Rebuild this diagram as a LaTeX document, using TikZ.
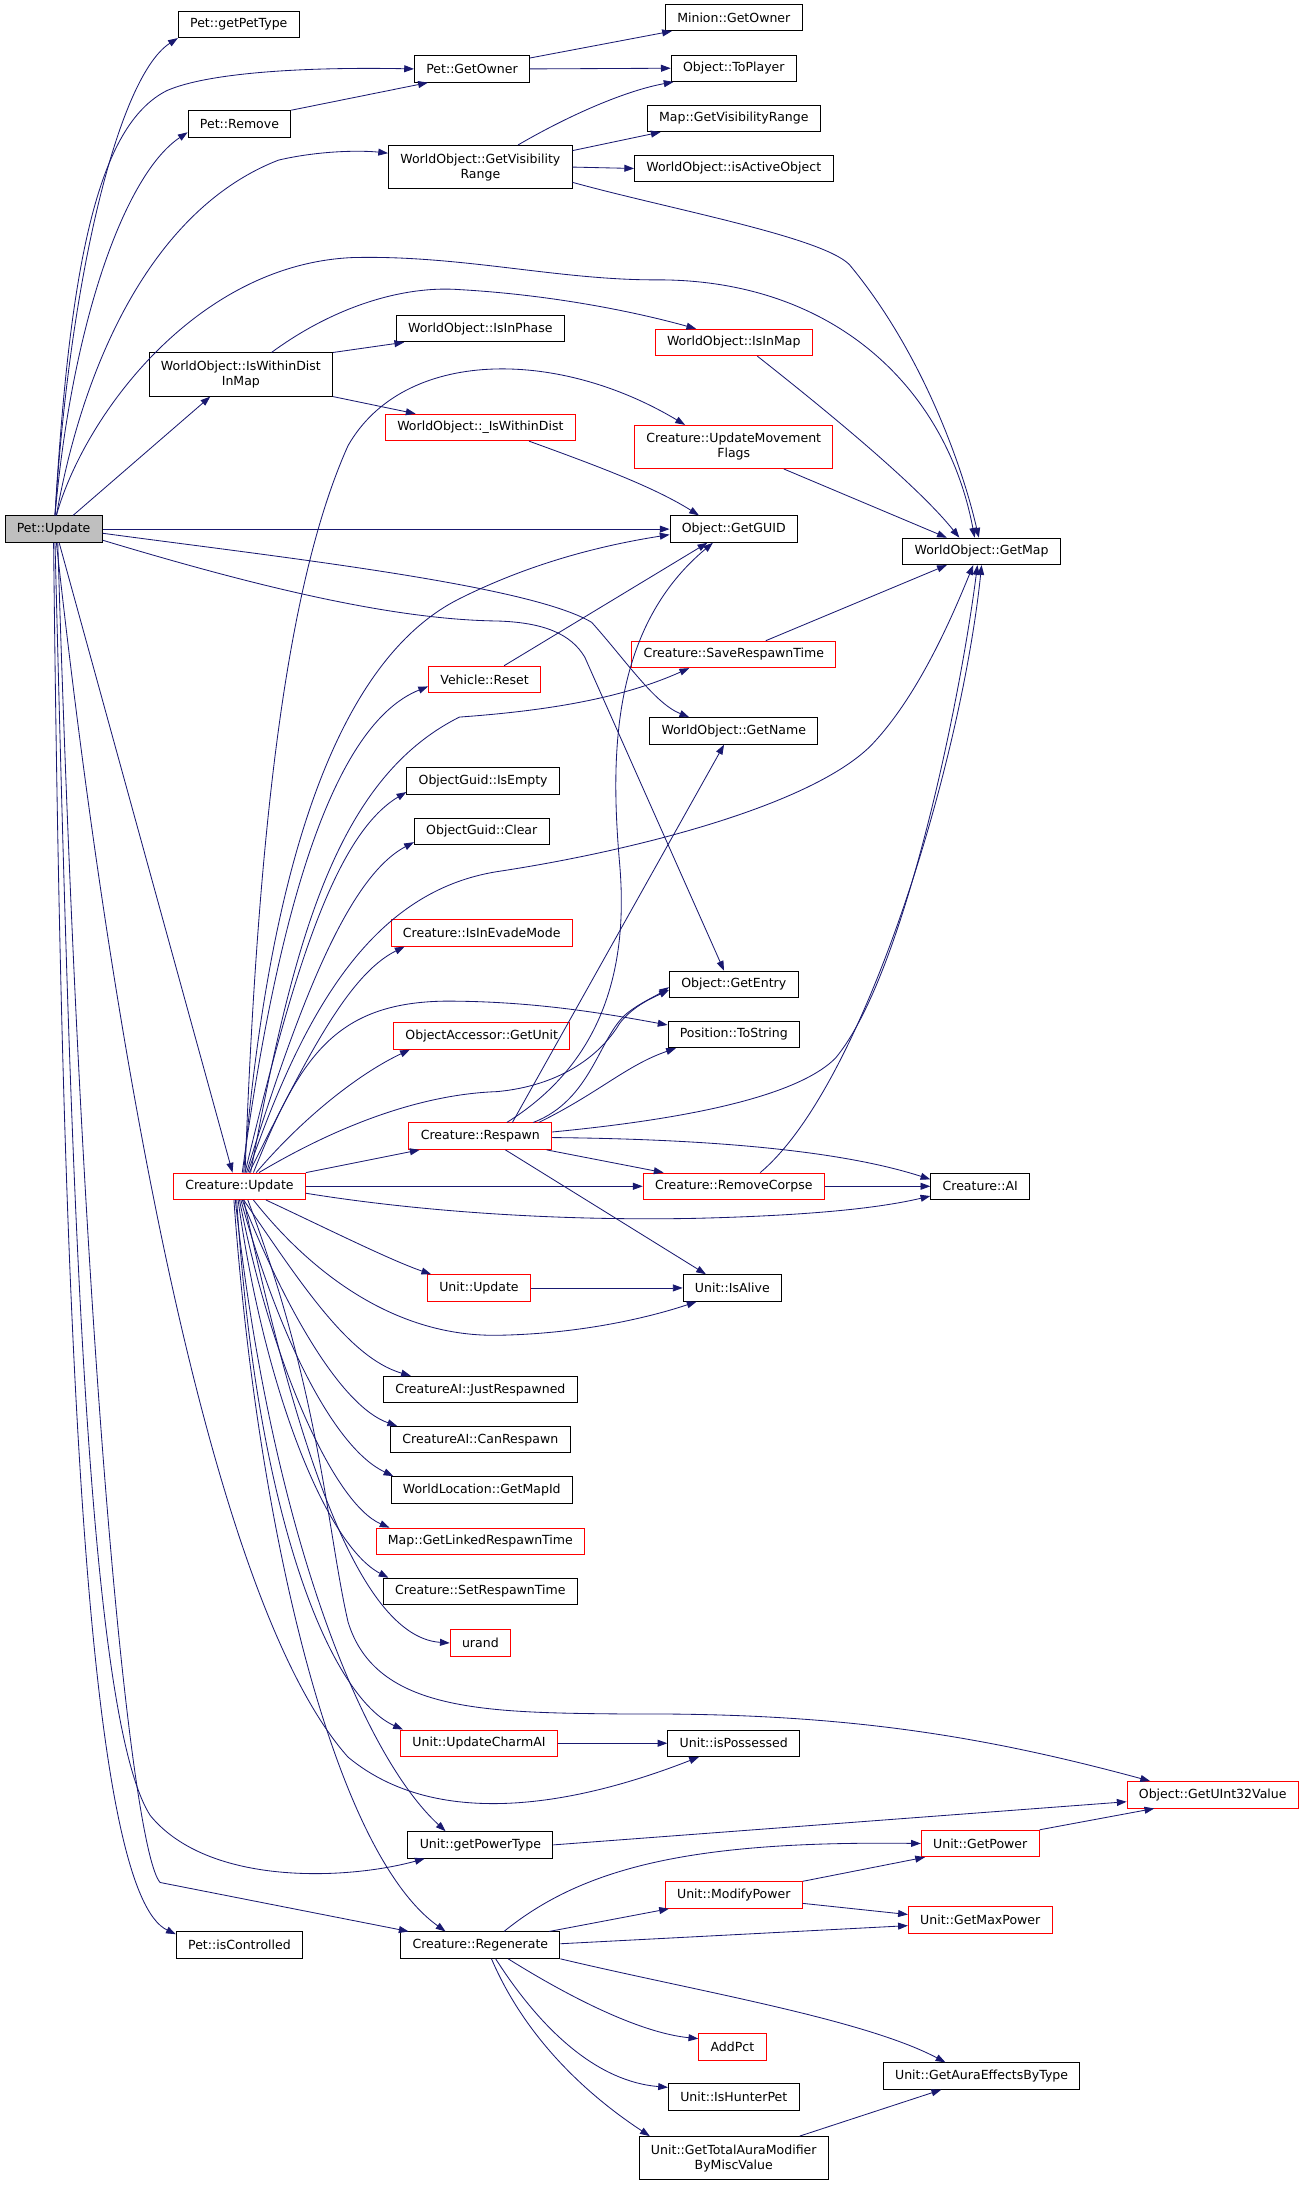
\documentclass[tikz,border=0pt]{standalone}
\usepackage{fontspec}
\setmainfont{DejaVu Sans}
\usetikzlibrary{arrows.meta}
\definecolor{edgeblue}{HTML}{191970}
\definecolor{boxred}{HTML}{FF0000}
\begin{document}
\begin{tikzpicture}[x=1pt,y=-1pt,
  fn/.style={draw=black, line width=0.7pt, fill=white, inner xsep=8.5pt, inner ysep=1pt,
    minimum height=19pt, align=center, font=\fontsize{9pt}{10.8pt}\selectfont},
  fnred/.style={fn, draw=boxred},
  fncur/.style={fn, fill=black!25},
  tall/.style={minimum height=31pt},
  call/.style={draw=edgeblue, line width=0.6pt, -{Triangle[length=7pt,width=5pt]}}]
\useasboundingbox (0,0) rectangle (937,1570);
% functions
\node[fncur] (pu) at (38.5,380) {Pet::Update};
\node[fn] (ppt) at (171.5,17.5) {Pet::getPetType};
\node[fn] (pgo) at (339,49.5) {Pet::GetOwner};
\node[fn] (mgo) at (527,12.5) {Minion::GetOwner};
\node[fn] (otp) at (527,49) {Object::ToPlayer};
\node[fn] (prm) at (172,89) {Pet::Remove};
\node[fn,tall] (gvr) at (345,120) {WorldObject::GetVisibility\\Range};
\node[fn] (mvr) at (527,85) {Map::GetVisibilityRange};
\node[fn] (iao) at (527,121) {WorldObject::isActiveObject};
\node[fn] (iip) at (345,236) {WorldObject::IsInPhase};
\node[fnred] (iim) at (527,246) {WorldObject::IsInMap};
\node[fn,tall] (iwd) at (173,269) {WorldObject::IsWithinDist\\InMap};
\node[fnred] (uwd) at (345,307) {WorldObject::\_IsWithinDist};
\node[fnred,tall] (umf) at (527,321) {Creature::UpdateMovement\\Flags};
\node[fn] (guid) at (527,380) {Object::GetGUID};
\node[fn] (gmap) at (705,396) {WorldObject::GetMap};
\node[fnred] (srt) at (527,470) {Creature::SaveRespawnTime};
\node[fnred] (vre) at (348,488) {Vehicle::Reset};
\node[fn] (gname) at (527,525) {WorldObject::GetName};
\node[fn] (gie) at (347,561) {ObjectGuid::IsEmpty};
\node[fn] (gcl) at (346,597) {ObjectGuid::Clear};
\node[fnred] (iem) at (346,670) {Creature::IsInEvadeMode};
\node[fn] (gent) at (527,707) {Object::GetEntry};
\node[fnred] (gunit) at (346,744) {ObjectAccessor::GetUnit};
\node[fn] (pts) at (527,743) {Position::ToString};
\node[fnred] (rsp) at (345,816) {Creature::Respawn};
\node[fnred] (cu) at (172,852) {Creature::Update};
\node[fnred] (rmc) at (527,852) {Creature::RemoveCorpse};
\node[fn] (cai) at (704,852) {Creature::AI};
\node[fnred] (uup) at (344,925) {Unit::Update};
\node[fn] (ual) at (526,925) {Unit::IsAlive};
\node[fn] (jrs) at (345,998) {CreatureAI::JustRespawned};
\node[fn] (crs) at (345,1034) {CreatureAI::CanRespawn};
\node[fn] (gmid) at (346,1070) {WorldLocation::GetMapId};
\node[fnred] (lrt) at (345,1107) {Map::GetLinkedRespawnTime};
\node[fn] (setrt) at (345,1143) {Creature::SetRespawnTime};
\node[fnred] (urand) at (345,1180) {urand};
\node[fnred] (uca) at (344,1252) {Unit::UpdateCharmAI};
\node[fn] (ups) at (527,1252) {Unit::isPossessed};
\node[fnred] (u32) at (871,1289) {Object::GetUInt32Value};
\node[fn] (gpt) at (345,1325) {Unit::getPowerType};
\node[fnred] (gpow) at (704,1324) {Unit::GetPower};
\node[fnred] (mpow) at (527,1361) {Unit::ModifyPower};
\node[fnred] (gmax) at (704,1379) {Unit::GetMaxPower};
\node[fn] (pic) at (172,1397) {Pet::isControlled};
\node[fn] (regen) at (345,1397) {Creature::Regenerate};
\node[fnred] (addp) at (526,1470) {AddPct};
\node[fn] (gaet) at (705,1491) {Unit::GetAuraEffectsByType};
\node[fn] (hunt) at (527,1506) {Unit::IsHunterPet};
\node[fn,tall] (gtam) at (527,1550) {Unit::GetTotalAuraModifier\\ByMiscValue};
% calls from Pet::Update
\draw[call] ([xshift=1pt]pu.north) .. controls (50,200) and (85,55) .. (ppt.south west);
\draw[call] ([xshift=1pt]pu.north) .. controls (50,190) and (70,90) .. (120,65) .. controls (150,52) and (220,48) .. (pgo.west);
\draw[call] ([xshift=1pt]pu.north) .. controls (52,230) and (90,125) .. ([yshift=-6pt]prm.west);
\draw[call] ([xshift=2pt]pu.north) .. controls (60,260) and (110,150) .. (200,115) .. controls (230,108) and (260,108) .. ([yshift=10pt]gvr.west);
\draw[call] ([xshift=2pt]pu.north) .. controls (60,300) and (140,190) .. (253,185) .. controls (330,183) and (400,201) .. (470,201) .. controls (600,200) and (680,280) .. ([xshift=-5pt]gmap.north);
\draw[call] ([xshift=14pt]pu.north) -- ([xshift=-22pt]iwd.south);
\draw[call] (pu.east) -- (guid.west);
\draw[call] ([yshift=-3pt]pu.east) .. controls (200,400) and (380,420) .. (425,447) .. controls (450,475) and (470,505) .. ([xshift=-32pt]gname.north);
\draw[call] ([yshift=-8pt]pu.east) .. controls (180,420) and (280,445) .. (357,446) .. controls (390,447) and (410,455) .. (420,472) -- ([xshift=-7pt]gent.north);
\draw[call] ([xshift=4pt]pu.south) -- ([xshift=-5pt]cu.north);
\draw[call] ([xshift=2pt]pu.south) .. controls (80,750) and (150,1150) .. (250,1262) .. controls (320,1320) and (430,1290) .. ([xshift=-25pt]ups.south);
\draw[call] ([xshift=1pt]pu.south) .. controls (50,800) and (60,1230) .. (108,1304) .. controls (150,1355) and (250,1350) .. ([xshift=-40pt]gpt.south);
\draw[call] (pu.south) .. controls (45,1000) and (65,1360) .. ([yshift=-2pt]pic.north west);
\draw[call] ([xshift=3pt]pu.south) .. controls (60,1000) and (95,1330) .. (115,1352) -- ([xshift=6pt]regen.north west);
% upper group
\draw[call] ([yshift=-2pt]pgo.north east) -- ([xshift=5pt]mgo.south west);
\draw[call] (pgo.east) -- (otp.west);
\draw[call] (prm.north east) -- ([xshift=10pt]pgo.south west);
\draw[call] ([xshift=27pt]gvr.north) .. controls (410,82) and (450,65) .. ([xshift=2pt]otp.south west);
\draw[call] ([yshift=-4pt]gvr.north east) -- ([xshift=10pt]mvr.south west);
\draw[call] (gvr.east) -- (iao.west);
\draw[call] ([yshift=-11pt]gvr.east) .. controls (480,150) and (590,170) .. (610,190) .. controls (660,250) and (690,330) .. ([xshift=-2pt]gmap.north);
\draw[call] ([xshift=22pt]iwd.north) .. controls (240,220) and (290,205) .. (330,208) .. controls (400,212) and (460,225) .. ([xshift=-27pt]iim.north);
\draw[call] (iwd.north east) -- ([xshift=6pt]iip.south west);
\draw[call] (iwd.south east) -- ([xshift=22pt]uwd.north west);
\draw[call] ([xshift=17pt]iim.south) .. controls (600,300) and (660,350) .. ([xshift=-16pt]gmap.north);
\draw[call] ([xshift=35pt]uwd.south) .. controls (430,335) and (470,350) .. ([xshift=-25pt]guid.north);
\draw[call] ([xshift=36pt]umf.south) -- ([xshift=-25pt]gmap.north);
\draw[call] ([xshift=23pt]srt.north) -- ([xshift=-25pt]gmap.south);
\draw[call] ([xshift=14pt]vre.north) -- ([xshift=-19pt]guid.south);
% calls from Creature::Update
\draw[call] ([xshift=3pt]cu.north) .. controls (195,600) and (250,470) .. (330,430) .. controls (380,405) and (430,392) .. ([yshift=-4pt]guid.west);
\draw[call] ([xshift=4pt]cu.north) .. controls (185,600) and (205,420) .. (250,320) .. controls (290,250) and (400,250) .. ([xshift=-35pt]umf.north);
\draw[call] ([xshift=6pt]cu.north) .. controls (220,720) and (270,640) .. (357,626) .. controls (450,612) and (580,580) .. (625,536) .. controls (660,500) and (685,440) .. ([xshift=-6pt]gmap.south);
\draw[call] ([xshift=2pt]cu.north) .. controls (200,650) and (240,520) .. ([yshift=-5pt]vre.west);
\draw[call] ([xshift=8pt]cu.north) .. controls (210,680) and (240,560) .. (330,515) .. controls (400,510) and (450,500) .. ([xshift=-32pt]srt.south);
\draw[call] ([xshift=4pt]cu.north) .. controls (210,700) and (240,600) .. ([yshift=2pt]gie.south west);
\draw[call] ([xshift=5pt]cu.north) .. controls (215,720) and (250,630) .. ([yshift=2pt]gcl.south west);
\draw[call] ([xshift=7pt]cu.north) .. controls (220,760) and (250,700) .. ([xshift=10pt]iem.south west);
\draw[call] ([xshift=10pt]cu.north) .. controls (215,760) and (240,720) .. (320,719) .. controls (380,719) and (430,727) .. ([yshift=-3pt]pts.north west);
\draw[call] ([xshift=12pt]cu.north) .. controls (220,800) and (260,770) .. ([xshift=12pt]gunit.south west);
\draw[call] ([xshift=14pt]cu.north) .. controls (240,810) and (300,786) .. (357,784) .. controls (400,780) and (430,760) .. (445,735) .. controls (455,722) and (470,716) .. ([yshift=-4pt]gent.west);
\draw[call] (cu.north east) -- ([xshift=8pt]rsp.south west);
\draw[call] (cu.east) -- (rmc.west);
\draw[call] ([yshift=-5pt]cu.east) .. controls (300,870) and (400,877) .. (500,875) .. controls (580,873) and (630,868) .. ([yshift=-7pt]cai.west);
\draw[call] ([xshift=19pt]cu.south) .. controls (230,880) and (280,905) .. ([xshift=3pt]uup.north west);
\draw[call] ([xshift=10pt]cu.south) .. controls (220,910) and (280,960) .. (357,959) .. controls (420,958) and (470,945) .. ([xshift=10pt]ual.south west);
\draw[call] ([xshift=3pt]cu.south) .. controls (215,920) and (250,975) .. ([xshift=20pt]jrs.north west);
\draw[call] ([xshift=2pt]cu.south) .. controls (205,940) and (245,1010) .. ([xshift=5pt]crs.north west);
\draw[call] ([xshift=1pt]cu.south) .. controls (200,960) and (240,1040) .. ([xshift=2pt]gmid.north west);
\draw[call] (cu.south) .. controls (195,980) and (240,1080) .. ([xshift=10pt]lrt.north west);
\draw[call] ([xshift=-1pt]cu.south) .. controls (190,1000) and (235,1110) .. ([xshift=4pt]setrt.north west);
\draw[call] ([xshift=3pt]cu.south) .. controls (205,1000) and (250,1175) .. (urand.west);
\draw[call] ([xshift=-2pt]cu.south) .. controls (185,1100) and (240,1220) .. ([xshift=2pt]uca.north west);
\draw[call] ([xshift=6pt]cu.south) .. controls (230,1000) and (235,1100) .. (250,1165) .. controls (270,1230) and (350,1230) .. (450,1231) .. controls (600,1230) and (700,1245) .. ([xshift=-45pt]u32.north);
\draw[call] ([xshift=-3pt]cu.south) .. controls (195,1100) and (260,1260) .. ([xshift=-25pt]gpt.north);
\draw[call] ([xshift=-4pt]cu.south) .. controls (185,1100) and (240,1330) .. ([xshift=-25pt]regen.north);
% calls from Creature::Respawn
\draw[call] ([xshift=19pt]rsp.north) .. controls (430,765) and (452,700) .. (445,620) .. controls (438,540) and (440,450) .. ([xshift=-15pt]guid.south);
\draw[call] ([xshift=23pt]rsp.north) -- ([xshift=-7pt]gname.south);
\draw[call] ([xshift=38pt]rsp.north) .. controls (425,790) and (430,745) .. (450,728) .. controls (460,720) and (470,716) .. ([yshift=-2pt]gent.west);
\draw[call] ([xshift=42pt]rsp.north) .. controls (430,785) and (450,765) .. ([xshift=6pt]pts.south west);
\draw[call] ([yshift=3pt]rsp.east) .. controls (480,805) and (570,790) .. (600,760) .. controls (650,700) and (690,500) .. ([xshift=-3pt]gmap.south);
\draw[call] ([yshift=-1pt]rsp.east) .. controls (500,818) and (600,825) .. ([yshift=5pt]cai.west);
\draw[call] ([xshift=-4pt]rsp.south east) -- ([xshift=15pt]rmc.north west);
\draw[call] ([xshift=18pt]rsp.south) -- ([xshift=-19pt]ual.north);
\draw[call] (rmc.east) -- (cai.west);
\draw[call] ([xshift=19pt]rmc.north) .. controls (620,780) and (690,550) .. (gmap.south);
\draw[call] (uup.east) -- (ual.west);
\draw[call] (uca.east) -- (ups.west);
% lower group
\draw[call] (gpt.east) -- ([yshift=-5pt]u32.west);
\draw[call] (gpow.north east) -- ([xshift=-42pt]u32.south);
\draw[call] ([xshift=17pt]regen.north) .. controls (420,1340) and (500,1322) .. (gpow.west);
\draw[call] ([xshift=-8pt]regen.north east) -- ([xshift=3pt]mpow.south west);
\draw[call] ([yshift=1pt]regen.east) -- ([yshift=-4pt]gmax.west);
\draw[call] (mpow.north east) -- ([xshift=3pt]gpow.south west);
\draw[call] ([yshift=-6pt]mpow.east) -- ([yshift=4pt]gmax.west);
\draw[call] ([xshift=20pt]regen.south) .. controls (410,1435) and (460,1460) .. ([yshift=-4pt]addp.north west);
\draw[call] (regen.south east) .. controls (500,1430) and (620,1450) .. ([xshift=-26pt]gaet.north);
\draw[call] ([xshift=11pt]regen.south) .. controls (390,1460) and (430,1495) .. ([yshift=-3pt]hunt.north west);
\draw[call] ([xshift=8pt]regen.south) .. controls (380,1470) and (430,1510) .. ([xshift=8pt]gtam.north west);
\draw[call] ([xshift=-21pt]gtam.north east) -- ([xshift=-29pt]gaet.south);
\end{tikzpicture}
\end{document}
